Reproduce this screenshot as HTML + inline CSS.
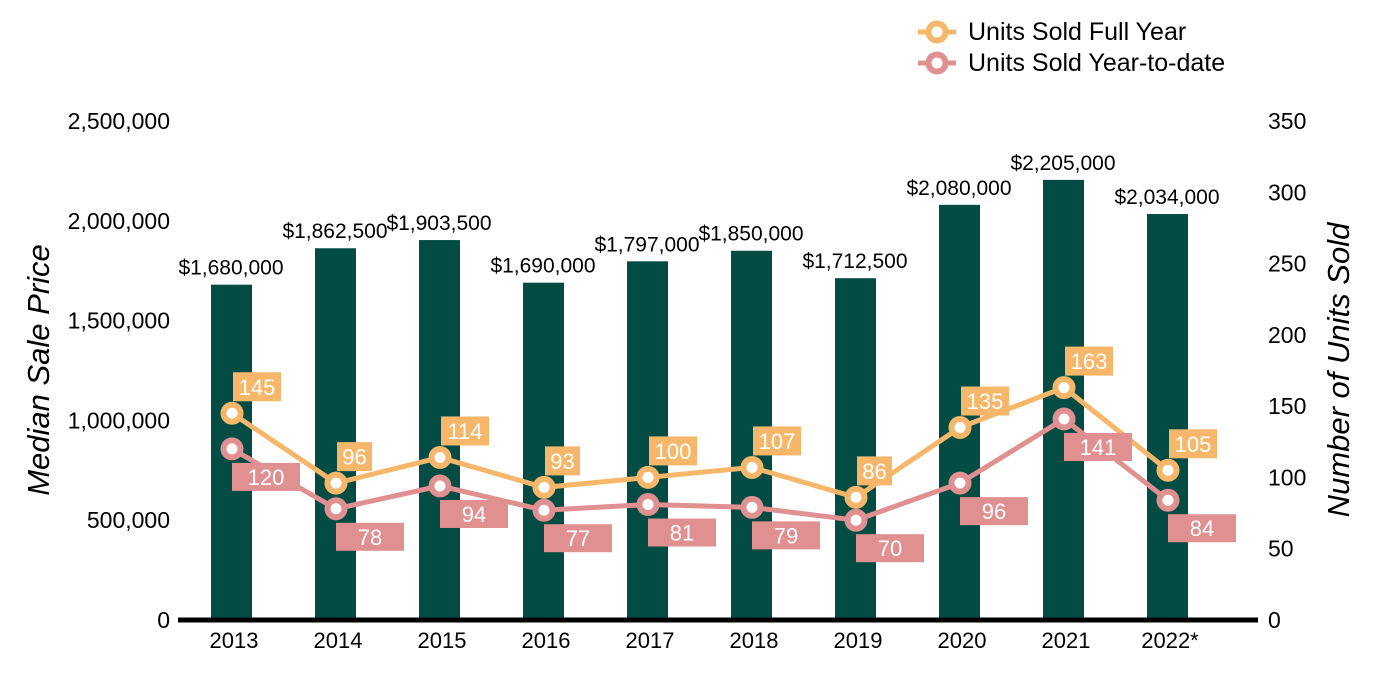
<!DOCTYPE html>
<html><head><meta charset="utf-8"><style>
body{margin:0;background:#fff;}
svg{display:block;font-family:"Liberation Sans",Arial,sans-serif;}
</style></head><body>
<svg id="chart" width="1400" height="700">
<g id="g"></g>
</svg>
<script>
const years=["2013","2014","2015","2016","2017","2018","2019","2020","2021","2022*"];
const prices=[1680000,1862500,1903500,1690000,1797000,1850000,1712500,2080000,2205000,2034000];
const fullYear=[145,96,114,93,100,107,86,135,163,105];
const ytd=[120,78,94,77,81,79,70,96,141,84];
const leftTicks=[0,500000,1000000,1500000,2000000,2500000];
const rightTicks=[0,50,100,150,200,250,300,350];
const NS="http://www.w3.org/2000/svg";
const g=document.getElementById('g');
const y0=620,yTop=121;
const yL=v=>y0-(v/2500000)*(y0-yTop);
const yR=v=>y0-(v/350)*(y0-yTop);
const xC=i=>232+i*104;
function mk(t,a,txt){const e=document.createElementNS(NS,t);for(const k in a)e.setAttribute(k,a[k]);if(txt!=null)e.textContent=txt;g.appendChild(e);return e;}
const fmt=v=>v.toLocaleString('en-US');
leftTicks.forEach(v=>{const e=mk('text',{x:170,y:yL(v)+8,'text-anchor':'end','font-size':23,fill:'#000'},fmt(v));

});
rightTicks.forEach(v=>{const e=mk('text',{x:1268,y:yR(v)+8,'font-size':23,fill:'#000'},String(v));

});
let t=mk('text',{x:0,y:0,'font-size':31,'font-style':'italic',transform:'translate(49,370) rotate(-90)','text-anchor':'middle'},'Median Sale Price');


t=mk('text',{x:0,y:0,'font-size':31,'font-style':'italic',transform:'translate(1349,370) rotate(-90)','text-anchor':'middle'},'Number of Units Sold');


prices.forEach((p,i)=>{
 const b=mk('rect',{x:xC(i)-21,y:yL(p),width:41,height:y0-yL(p),fill:'#024c44'});
 
 
 const l=mk('text',{x:xC(i)-1,y:yL(p)-10,'text-anchor':'middle','font-size':21,fill:'#000'},'$'+fmt(p));
 
 
 const xl=mk('text',{x:xC(i)+2,y:648,'text-anchor':'middle','font-size':22,fill:'#000'},years[i]);
 
 
});
const ax=mk('line',{x1:178,x2:1258,y1:620,y2:620,stroke:'#000','stroke-width':5});


function series(vals,col,name,above){
 const pl=mk('polyline',{points:vals.map((v,i)=>xC(i)+','+yR(v)).join(' '),fill:'none',stroke:col,'stroke-width':5});
 
 
 vals.forEach((v,i)=>{
  const c=mk('circle',{cx:xC(i),cy:yR(v),r:8.5,fill:'#fff',stroke:col,'stroke-width':6});
  
  
  const s=String(v);
  let bx,by,bw,bh;
  if(above){bw=s.length>2?48:35;bh=29;bx=xC(i)+1;by=yR(v)-41;}
  else{bw=68;bh=28;bx=xC(i);by=yR(v)+14;}
  const r=mk('rect',{x:bx,y:by,width:bw,height:bh,fill:col});
  
  
  const tx=mk('text',{x:bx+bw/2,y:by+bh/2+8,'text-anchor':'middle','font-size':22,fill:'#fff'},s);
  
  
 });
}
series(fullYear,'#f6b76b','units-full-year',true);
series(ytd,'#e09090','units-ytd',false);
[['Units Sold Full Year','#f6b76b',32],['Units Sold Year-to-date','#e09090',63]].forEach(([n,c,y])=>{
 const l=mk('line',{x1:918,x2:956,y1:y,y2:y,stroke:c,'stroke-width':5});
 
 
 const ci=mk('circle',{cx:937,cy:y,r:8.5,fill:'#fff',stroke:c,'stroke-width':6});
 
 
 const tx=mk('text',{x:968,y:y+8,'font-size':25,fill:'#000'},n);
 
 
});
</script>
</body></html>
